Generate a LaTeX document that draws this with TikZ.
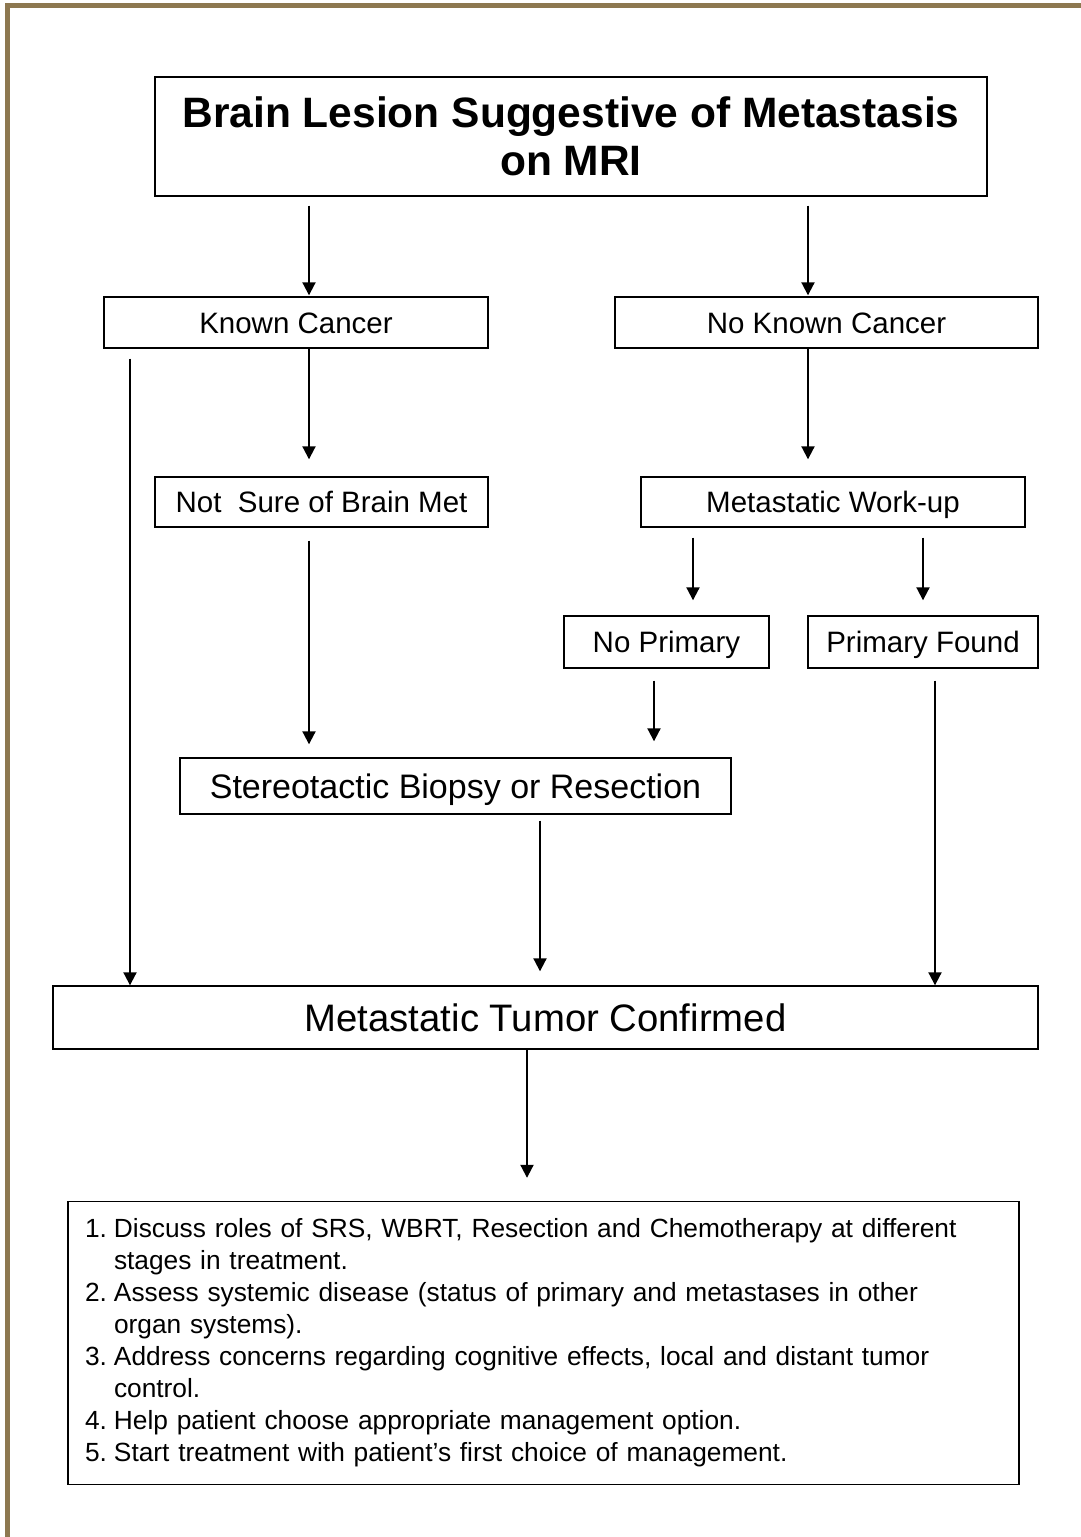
\documentclass[tikz,border=0pt]{standalone}
\usepackage{fontspec}
\setmainfont{Liberation Sans}
\usetikzlibrary{arrows.meta}
\definecolor{frame}{RGB}{141,120,80}
\tikzset{
  box/.style={draw=black, line width=1.4pt, inner sep=0pt, rectangle, align=center},
  midtxt/.style={font=\fontsize{29.5}{35}\selectfont, text height=21.2pt, text depth=0pt},
  bigtxt/.style={font=\fontsize{34}{40}\selectfont, text height=24.4pt, text depth=0pt},
  arr/.style={line width=2pt, -{Triangle[length=13pt,width=13pt]}},
}
\begin{document}
\begin{tikzpicture}[x=1pt,y=-1pt]
\useasboundingbox (0,0) rectangle (1081,1537);
\fill[white] (0,0) rectangle (1081,1537);
\fill[frame] (5,3) rectangle (1081,8.3);
\fill[frame] (5,3) rectangle (10.3,1537);

\node[box, minimum width=832pt, minimum height=119pt, font=\fontsize{42.5}{48}\bfseries\selectfont] (title) at (571,136.5) {Brain Lesion Suggestive of Metastasis\\on MRI};
\node[box, midtxt, minimum width=384pt, minimum height=51pt] (known) at (296,322.5) {Known Cancer};
\node[box, midtxt, minimum width=423pt, minimum height=51pt] (noknown) at (826.5,322.5) {No Known Cancer};
\node[box, midtxt, minimum width=333pt, minimum height=50pt] (notsure) at (321.5,502) {Not\ \ Sure of Brain Met};
\node[box, midtxt, minimum width=384pt, minimum height=50pt] (workup) at (833,502) {Metastatic Work-up};
\node[box, midtxt, minimum width=205pt, minimum height=52pt] (noprimary) at (666.5,642) {No Primary};
\node[box, midtxt, minimum width=230pt, minimum height=52pt] (primary) at (923,642) {Primary Found};
\node[box, bigtxt, minimum width=551pt, minimum height=56pt] (stereo) at (455.5,786) {Stereotactic Biopsy or Resection};
\node[box, font=\fontsize{38.3}{44}\selectfont, text height=27.4pt, text depth=0pt, minimum width=985pt, minimum height=63pt] (confirmed) at (545.5,1017.5) {Metastatic Tumor Confirmed};
\node[box, align=left, text width=917pt, inner xsep=17pt, minimum height=283pt, font=\fontsize{26.3}{32}\selectfont] (list) at (543.5,1343) {%
\makebox[29pt][l]{1.}Discuss roles of SRS, WBRT, Resection and Chemotherapy at different\\
\hspace*{29pt}stages in treatment.\\
\makebox[29pt][l]{2.}Assess systemic disease (status of primary and metastases in other\\
\hspace*{29pt}organ systems).\\
\makebox[29pt][l]{3.}Address concerns regarding cognitive effects, local and distant tumor\\
\hspace*{29pt}control.\\
\makebox[29pt][l]{4.}Help patient choose appropriate management option.\\
\makebox[29pt][l]{5.}Start treatment with patient’s first choice of management.};

\draw[arr] ([xshift=-262pt,yshift=-9pt]title.south) -- ([xshift=13pt,yshift=1pt]known.north);
\draw[arr] ([xshift=237pt,yshift=-9pt]title.south) -- ([xshift=-18.5pt,yshift=1pt]noknown.north);
\draw[arr] ([xshift=13pt]known.south) -- ([xshift=-12.5pt,yshift=17pt]notsure.north);
\draw[arr] ([xshift=-18.5pt]noknown.south) -- ([xshift=-25pt,yshift=17pt]workup.north);
\draw[arr] ([xshift=-166pt,yshift=-10pt]known.south) -- ([xshift=-415.5pt]confirmed.north);
\draw[arr] ([xshift=-12.5pt,yshift=-13pt]notsure.south) -- ([xshift=-146.5pt,yshift=13pt]stereo.north);
\draw[arr] ([xshift=-140pt,yshift=-10pt]workup.south) -- ([xshift=26.5pt,yshift=15pt]noprimary.north);
\draw[arr] ([xshift=90pt,yshift=-10pt]workup.south) -- ([yshift=15pt]primary.north);
\draw[arr] ([xshift=-12.5pt,yshift=-12pt]noprimary.south) -- ([xshift=198.5pt,yshift=16pt]stereo.north);
\draw[arr] ([xshift=12pt,yshift=-12pt]primary.south) -- ([xshift=389.5pt]confirmed.north);
\draw[arr] ([xshift=84.5pt,yshift=-6pt]stereo.south) -- ([xshift=-5.5pt,yshift=14pt]confirmed.north);
\draw[arr] ([xshift=-18.5pt]confirmed.south) -- ([xshift=-16.5pt,yshift=23pt]list.north);
\end{tikzpicture}
\end{document}
